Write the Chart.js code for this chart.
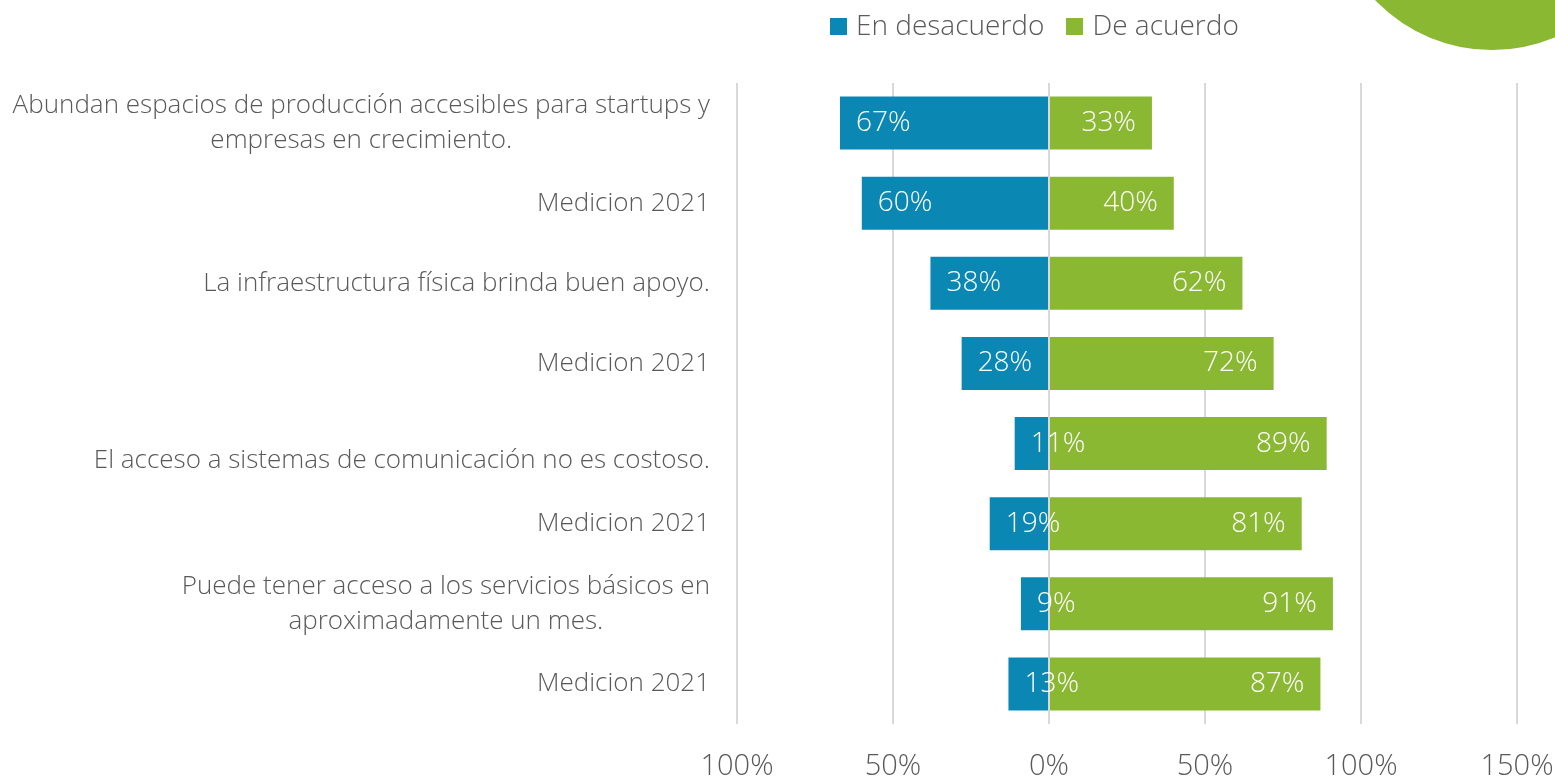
<!DOCTYPE html>
<html><head><meta charset="utf-8">
<script src="https://cdn.jsdelivr.net/npm/chart.js@4.4.1/dist/chart.umd.min.js"></script>
<style>
html,body{margin:0;padding:0;background:#fff;overflow:hidden;}
#wrap{position:relative;width:1555px;height:778px;overflow:hidden;}
#deco{position:absolute;left:1330px;top:-274px;width:324px;height:324px;border-radius:50%;background:#8bb833;}
#legend{position:absolute;left:830px;top:0;height:48px;display:flex;align-items:center;font-family:'Open Sans';font-weight:300;font-size:28px;color:#595959;line-height:32px;}
.item{display:flex;align-items:center;margin-right:22px}
.box{width:17px;height:17px;margin-right:9px;margin-top:4px}
canvas{position:absolute;left:0;top:0}
</style></head>
<body><div id="wrap"><canvas id="c" width="1555" height="778"></canvas><div id="deco"></div><div id="legend"></div></div>
<script>
const categories = [
  ["Abundan espacios de producción accesibles para startups y", "empresas en crecimiento."],
  ["Medicion 2021"],
  ["La infraestructura física brinda buen apoyo."],
  ["Medicion 2021"],
  ["", "El acceso a sistemas de comunicación no es costoso."],
  ["Medicion 2021"],
  ["Puede tener acceso a los servicios básicos en", "aproximadamente un mes."],
  ["Medicion 2021"]
];
const seriesNames = ["En desacuerdo", "De acuerdo"];
const desacuerdo = [67, 60, 38, 28, 11, 19, 9, 13];
const deAcuerdo = [33, 40, 62, 72, 89, 81, 91, 87];
const xTickValues = [-100, -50, 0, 50, 100, 150];

const BLUE = '#0a88b3', GREEN = '#8bb833', GRID = '#d9d9d9', TEXT = '#595959';
const FONT = "'Open Sans'";

const yLabelPlugin = {
  id: 'yLabels',
  afterDraw(chart) {
    const ctx = chart.ctx, ys = chart.scales.y;
    ctx.save();
    ctx.font = `300 26px ${FONT}`;
    ctx.fillStyle = TEXT;
    ctx.textBaseline = 'middle';
    ctx.textAlign = 'center';
    const right = chart.chartArea.left - 27;
    const lh = 35;
    categories.forEach((lines, i) => {
      const cy = ys.getPixelForValue(i);
      const w = Math.max(...lines.map(l => ctx.measureText(l).width));
      const cx = right - w / 2;
      lines.forEach((l, j) => {
        ctx.fillText(l, cx, cy + (j - (lines.length - 1) / 2) * lh);
      });
    });
    ctx.restore();
  }
};

const zeroAndLabels = {
  id: 'zeroAndLabels',
  afterDatasetsDraw(chart) {
    const ctx = chart.ctx, xs = chart.scales.x, a = chart.chartArea;
    const x0 = xs.getPixelForValue(0);
    ctx.save();
    ctx.strokeStyle = GRID; ctx.lineWidth = 2;
    ctx.beginPath(); ctx.moveTo(x0, a.top); ctx.lineTo(x0, a.bottom); ctx.stroke();
    ctx.font = `300 28px ${FONT}`;
    ctx.fillStyle = '#ffffff';
    ctx.textBaseline = 'middle';
    chart.data.datasets.forEach((ds, di) => {
      const meta = chart.getDatasetMeta(di);
      meta.data.forEach((bar, i) => {
        const v = Math.abs(ds.data[i]);
        const txt = v + '%';
        const lo = Math.min(bar.x, bar.base), hi = Math.max(bar.x, bar.base);
        if (di === 0) { ctx.textAlign = 'left'; ctx.fillText(txt, lo + 16, bar.y); }
        else { ctx.textAlign = 'right'; ctx.fillText(txt, hi - 16, bar.y); }
      });
    });
    ctx.restore();
  }
};

const chart = new Chart(document.getElementById('c'), {
  type: 'bar',
  data: {
    labels: categories,
    datasets: [
      { label: seriesNames[0], data: desacuerdo.map(v => -v), backgroundColor: BLUE, borderWidth: 0, barPercentage: 0.66, categoryPercentage: 1 },
      { label: seriesNames[1], data: deAcuerdo, backgroundColor: GREEN, borderWidth: 0, barPercentage: 0.66, categoryPercentage: 1 }
    ]
  },
  options: {
    indexAxis: 'y',
    responsive: false,
    animation: false,
    devicePixelRatio: 1,
    layout: { padding: { left: 0, right: 38, top: 83, bottom: 0 } },
    plugins: { legend: { display: false }, tooltip: { enabled: false } },
    scales: {
      x: {
        stacked: true, min: -100, max: 150,
        afterBuildTicks: s => { s.ticks = xTickValues.map(v => ({ value: v })); },
        afterFit: s => { s.height = 54; s.paddingLeft = 0; s.paddingRight = 0; },
        grid: { color: GRID, lineWidth: 2, drawTicks: false },
        border: { display: false },
        ticks: { color: TEXT, font: { family: FONT, size: 29, weight: 300 }, padding: 25, maxRotation: 0, callback: v => Math.abs(v) + '%' }
      },
      y: {
        stacked: true,
        afterFit: s => { s.width = 737; },
        grid: { display: false }, border: { display: false },
        ticks: { display: false }
      }
    }
  },
  plugins: [yLabelPlugin, zeroAndLabels]
});

const lg = document.getElementById('legend');
chart.data.datasets.forEach(ds => {
  const it = document.createElement('div'); it.className = 'item';
  const b = document.createElement('div'); b.className = 'box'; b.style.background = ds.backgroundColor;
  const t = document.createElement('span'); t.textContent = ds.label;
  it.appendChild(b); it.appendChild(t); lg.appendChild(it);
});
</script>
</body></html>
